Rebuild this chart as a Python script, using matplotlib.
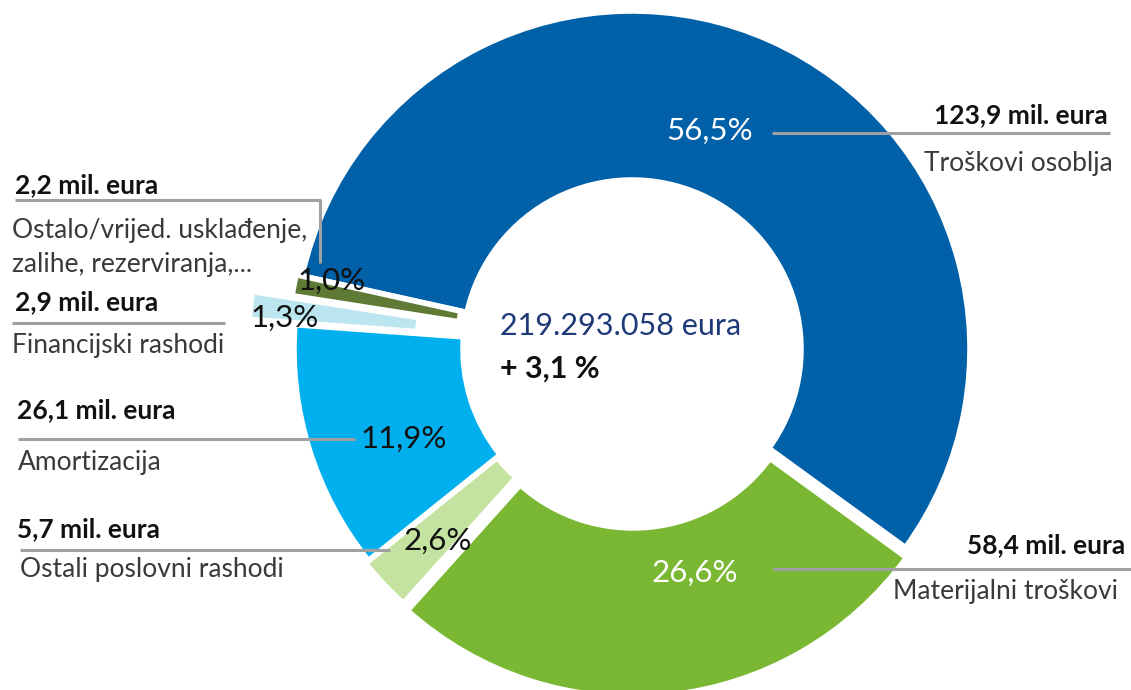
import matplotlib
matplotlib.use("Agg")
import matplotlib.pyplot as plt

# ---- data ----
categories = ["Troškovi osoblja", "Materijalni troškovi", "Ostali poslovni rashodi",
              "Amortizacija", "Financijski rashodi", "Ostalo/vrijed. usklađenje,\nzalihe, rezerviranja,..."]
values_mil = [123.9, 58.4, 5.7, 26.1, 2.9, 2.2]
pct_labels = ["56,5%", "26,6%", "2,6%", "11,9%", "1,3%", "1,0%"]
amount_labels = ["123,9 mil. eura", "58,4 mil. eura", "5,7 mil. eura",
                 "26,1 mil. eura", "2,9 mil. eura", "2,2 mil. eura"]
total_label = "219.293.058 eura"
change_label = "+ 3,1 %"

colors = ["#0060A8", "#7AB833", "#C4E3A0", "#00B0EE", "#BCE6EF", "#5E7A35"]

W, H = 1131, 690
fig = plt.figure(figsize=(W / 100, H / 100), dpi=100)
ax = fig.add_axes([0, 0, 1, 1])

def Y(y):
    return H - y

cx, cy = 632, 349
R = 338
ring = 169
explode = [0, 10, 4, 0, 46, 6]

ax.pie(values_mil, radius=R, center=(cx, Y(cy)), startangle=167.5, counterclock=False,
       explode=explode, colors=colors,
       wedgeprops=dict(width=ring, edgecolor="white", linewidth=4.0, antialiased=True),
       frame=True)
ax.set_xlim(0, W)
ax.set_ylim(0, H)
ax.set_aspect("equal")
ax.axis("off")

FONT = "Lato"
line_col = "#A0A0A0"
lw = 2.2

def hline(pts):
    xs = [p[0] for p in pts]
    ys = [Y(p[1]) for p in pts]
    ax.plot(xs, ys, color=line_col, lw=lw, solid_capstyle="butt", zorder=3)

# leader lines
hline([(772, 133), (1110, 133)])
hline([(773, 569), (1131, 569)])
hline([(15, 200), (320, 200), (320, 263)])
hline([(12, 323), (225, 323)])
hline([(18, 439), (355, 439)])
hline([(20, 550), (390, 550)])

bold_kw = dict(family=FONT, fontsize=19, fontweight="bold", color="#111111", va="baseline", zorder=5)
reg_kw = dict(family=FONT, fontsize=19, color="#3a3a3a", va="baseline", zorder=5)
pct_kw = dict(family=FONT, fontsize=22.5, va="baseline", ha="center", zorder=5)

# right labels
ax.text(1108, Y(123), amount_labels[0], ha="right", **bold_kw)
ax.text(1113, Y(171), categories[0], ha="right", **reg_kw)
ax.text(1125, Y(553), amount_labels[1], ha="right", **bold_kw)
ax.text(1118, Y(599), categories[1], ha="right", **reg_kw)

# left labels
ax.text(15, Y(193), amount_labels[5], ha="left", **bold_kw)
ax.text(12, Y(238), categories[5].split("\n")[0], ha="left", **reg_kw)
ax.text(12, Y(272), categories[5].split("\n")[1], ha="left", **reg_kw)
ax.text(15, Y(310), amount_labels[4], ha="left", **bold_kw)
ax.text(12, Y(353), categories[4], ha="left", **reg_kw)
ax.text(17, Y(418), amount_labels[3], ha="left", **bold_kw)
ax.text(18, Y(470), categories[3], ha="left", **reg_kw)
ax.text(17, Y(537), amount_labels[2], ha="left", **bold_kw)
ax.text(20, Y(577), categories[2], ha="left", **reg_kw)

# percentage labels
ax.text(710, Y(140), pct_labels[0], color="white", **pct_kw)
ax.text(695, Y(582), pct_labels[1], color="white", **pct_kw)
ax.text(438, Y(550), pct_labels[2], color="#111111", **pct_kw)
ax.text(404, Y(448), pct_labels[3], color="#111111", **pct_kw)
ax.text(285, Y(327), pct_labels[4], color="#111111", **pct_kw)
ax.text(332, Y(290), pct_labels[5], color="#111111", **pct_kw)

# center
ax.text(500, Y(335), total_label, family=FONT, fontsize=22, color="#1F3A78", ha="left", va="baseline")
ax.text(500, Y(378), change_label, family=FONT, fontsize=22, fontweight="bold", color="#111111",
        ha="left", va="baseline")

fig.savefig("out.png", dpi=100, facecolor="white")
